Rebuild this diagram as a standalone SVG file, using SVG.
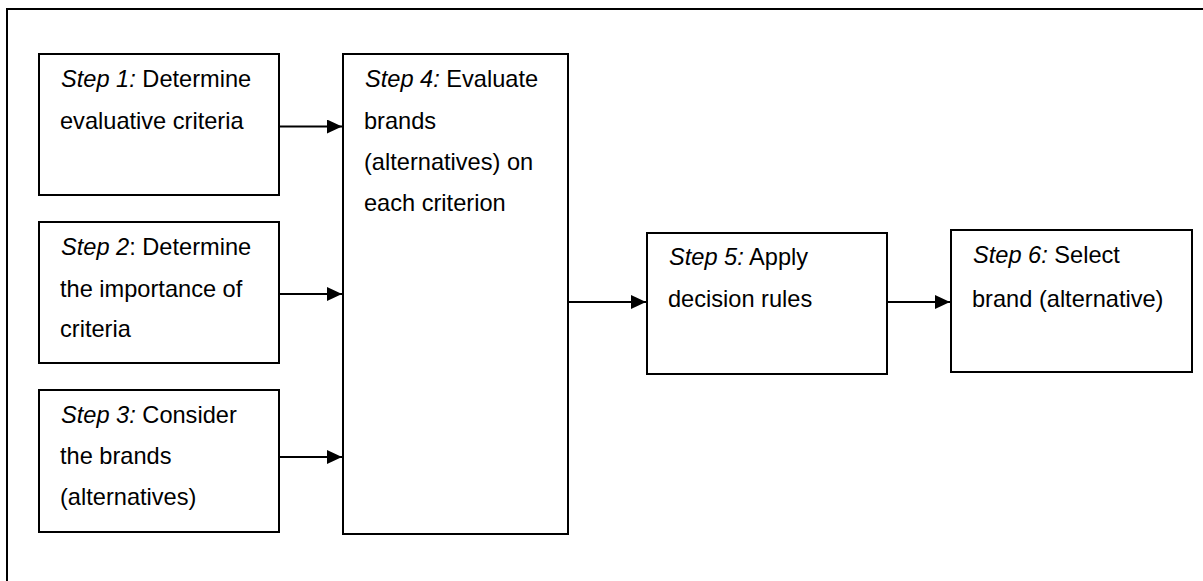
<svg xmlns="http://www.w3.org/2000/svg" width="1203" height="581" viewBox="0 0 1203 581">
  <style>
    .box { fill: #ffffff; stroke: #000000; stroke-width: 2; }
    .frame { fill: none; stroke: #000000; stroke-width: 2; }
    .link { fill: none; stroke: #000000; stroke-width: 2; }
    text { font-family: "Liberation Sans", Arial, sans-serif; font-size: 23.6px; fill: #000000; }
    .it { font-style: italic; }
  </style>
  <defs>
    <marker id="head" viewBox="0 0 15 14" refX="15" refY="7" markerWidth="15" markerHeight="14" markerUnits="userSpaceOnUse" orient="auto">
      <path d="M0,0 L15,7 L0,14 Z" fill="#000000"/>
    </marker>
  </defs>

  <rect width="1203" height="581" fill="#ffffff"/>

  <!-- outer frame, running past the right and bottom edges -->
  <path class="frame" d="M7,590 V9 H1210"/>

  <g id="step1">
    <rect class="box" x="39" y="54" width="240" height="141"/>
    <text x="61" y="87"><tspan class="it">Step 1:</tspan> Determine</text>
    <text x="60" y="129">evaluative criteria</text>
  </g>

  <g id="step2">
    <rect class="box" x="39" y="222" width="240" height="141"/>
    <text x="61" y="255"><tspan class="it">Step 2</tspan>: Determine</text>
    <text x="60" y="296.5">the importance of</text>
    <text x="60" y="337">criteria</text>
  </g>

  <g id="step3">
    <rect class="box" x="39" y="390" width="240" height="142"/>
    <text x="61" y="423"><tspan class="it">Step 3:</tspan> Consider</text>
    <text x="60" y="464">the brands</text>
    <text x="60" y="505">(alternatives)</text>
  </g>

  <g id="step4">
    <rect class="box" x="343" y="54" width="225" height="480"/>
    <text x="365" y="87"><tspan class="it">Step 4:</tspan> Evaluate</text>
    <text x="364" y="129">brands</text>
    <text x="364" y="170">(alternatives) on</text>
    <text x="364" y="211">each criterion</text>
  </g>

  <g id="step5">
    <rect class="box" x="647" y="233" width="240" height="141"/>
    <text x="669" y="265"><tspan class="it">Step 5:</tspan> Apply</text>
    <text x="668" y="307">decision rules</text>
  </g>

  <g id="step6">
    <rect class="box" x="951" y="230" width="241" height="142"/>
    <text x="973" y="263"><tspan class="it">Step 6:</tspan> Select</text>
    <text x="972" y="307">brand (alternative)</text>
  </g>

  <g id="connectors">
    <line class="link" x1="279" y1="126.5" x2="342" y2="126.5" marker-end="url(#head)"/>
    <line class="link" x1="279" y1="294" x2="342" y2="294" marker-end="url(#head)"/>
    <line class="link" x1="279" y1="457" x2="342" y2="457" marker-end="url(#head)"/>
    <line class="link" x1="568" y1="302" x2="646" y2="302" marker-end="url(#head)"/>
    <line class="link" x1="887" y1="302" x2="950" y2="302" marker-end="url(#head)"/>
  </g>
</svg>
